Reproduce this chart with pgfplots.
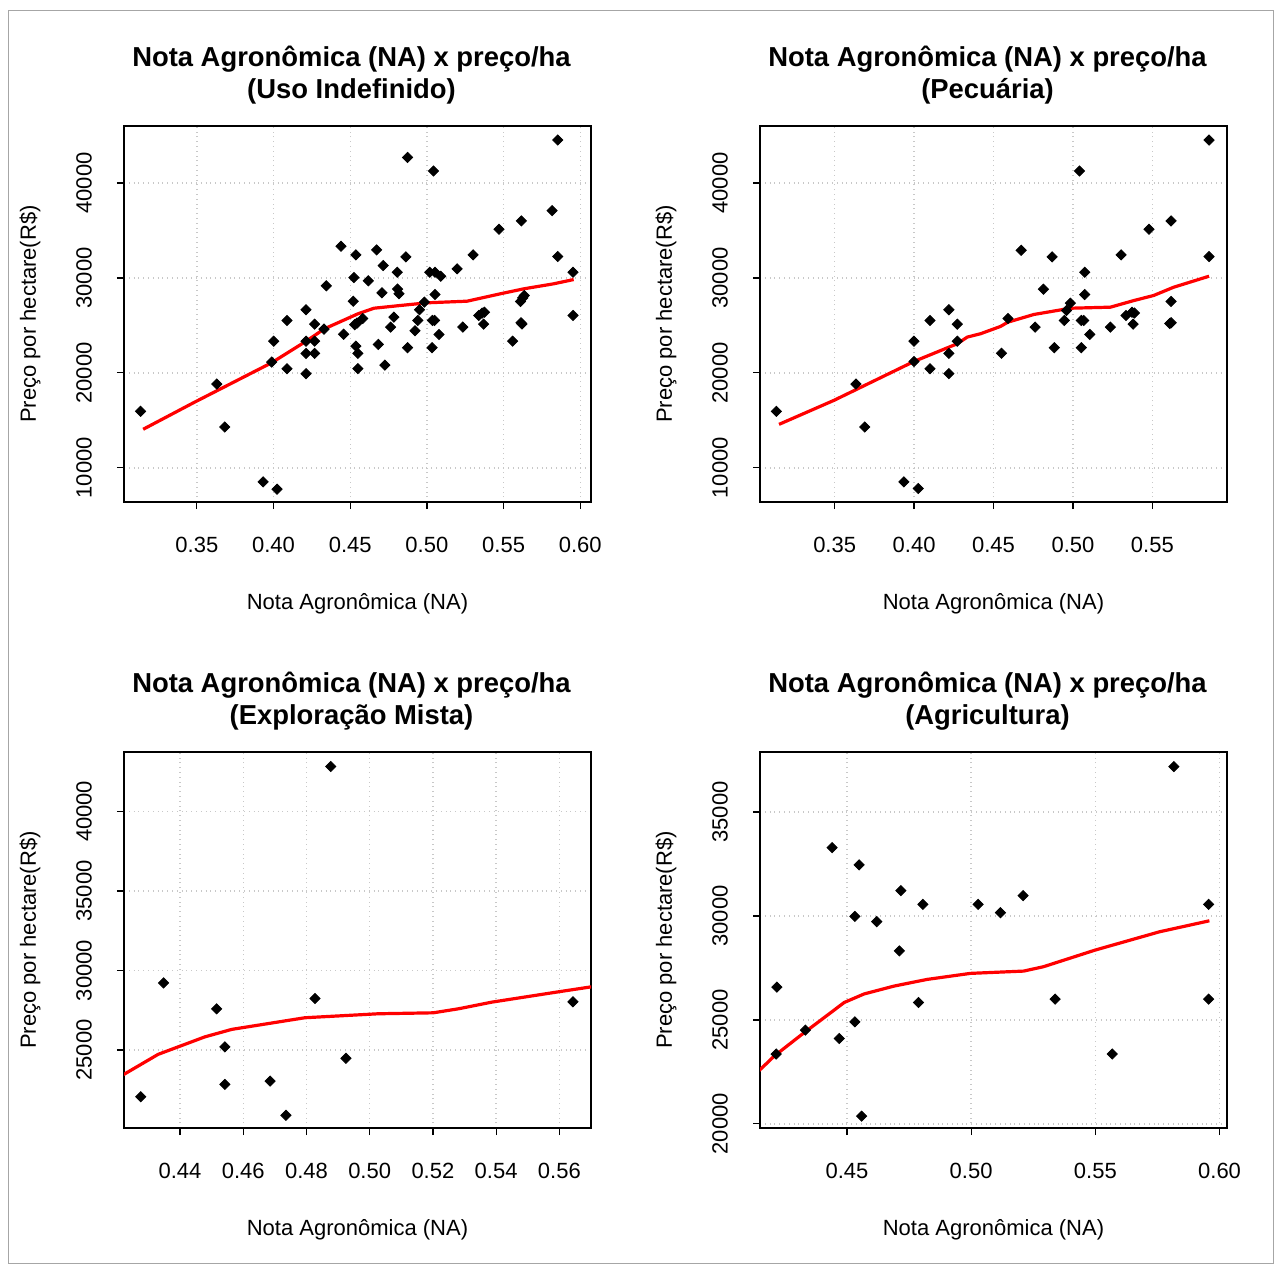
\documentclass[border=0pt]{standalone}
\usepackage{fontspec}
\setmainfont{Liberation Sans}
\usepackage{pgfplots}
\pgfplotsset{compat=1.18}
\definecolor{lgrid}{RGB}{200,200,200}

\pgfplotsset{
  rpanel/.style={
    anchor=north west,
    width=233.5pt, height=188pt, scale only axis,
    axis line style={line width=0.9pt},
    tick align=outside, xtick pos=bottom, ytick pos=left,
    major tick length=3.5pt,
    tick style={line width=0.6pt, black},
    grid=major, major grid style={dotted, lgrid, line width=0.7pt},
    font=\fontsize{11}{13}\selectfont,
    /pgf/number format/assume math mode=true,
    scaled ticks=false,
    xticklabel style={anchor=center, yshift=-18pt,
      /pgf/number format/.cd, fixed, fixed zerofill, precision=2},
    yticklabel style={rotate=90, anchor=center, yshift=16.5pt,
      /pgf/number format/.cd, fixed, set thousands separator={}},
    title style={at={(0.5,1)}, anchor=center, yshift=19.5pt, xshift=-3pt,
      align=center, font=\fontsize{13.7}{16}\selectfont\bfseries},
    xlabel={Nota Agronômica (NA)},
    ylabel={Preço por hectare(R\$)},
    xlabel style={at={(0.5,0)}, anchor=center, yshift=-51pt},
    ylabel style={at={(0,0.5)}, anchor=center, yshift=47pt},
    clip=true,
  },
  pts/.style={only marks, mark=square*, mark size=1.8pt,
    mark options={rotate=45, fill=black, draw=black}},
  fit/.style={no marks, red, line width=1.6pt},
}

\begin{document}
\begin{tikzpicture}
\useasboundingbox (0,0) rectangle (637pt,-632.5pt);
\draw[gray!70, line width=0.5pt] (4pt,-5pt) rectangle (636.6pt,-631.5pt);

% Uso Indefinido
\begin{axis}[rpanel, at={(62pt,-63pt)},
  title={Nota Agronômica (NA) x preço/ha\\(Uso Indefinido)},
  xmin=0.3025, xmax=0.607, ymin=6400, ymax=46000,
  xtick={0.35,0.40,0.45,0.50,0.55,0.60},
  ytick={10000,20000,30000,40000}]
\addplot[pts] table {
x y
0.3133 15950
0.3630 18820
0.3682 14300
0.3932 8520
0.4023 7750
0.4001 23340
0.3988 21140
0.4088 25520
0.4088 20440
0.4212 26650
0.4268 25130
0.4212 23340
0.4268 23340
0.4212 22050
0.4268 22050
0.4212 19920
0.4329 24610
0.4344 29170
0.4440 33330
0.4457 24070
0.4537 32430
0.4524 30040
0.4520 27550
0.4529 25070
0.4545 25250
0.4582 25730
0.4537 22820
0.4550 22050
0.4550 20440
0.4672 32950
0.4715 31300
0.4618 29700
0.4707 28430
0.4785 25870
0.4763 24820
0.4683 23000
0.4726 20820
0.4807 30600
0.4809 28830
0.4818 28330
0.4863 32220
0.4874 42690
0.4874 22650
0.4952 26650
0.4941 25520
0.4922 24440
0.4984 27450
0.5019 30600
0.5043 41260
0.5053 30600
0.5090 30180
0.5053 28250
0.5036 25520
0.5050 25520
0.5079 24050
0.5034 22650
0.5197 30960
0.5234 24820
0.5301 32430
0.5338 26050
0.5360 26300
0.5375 26390
0.5370 25130
0.5470 35120
0.5559 23340
0.5616 36000
0.5610 27520
0.5625 27900
0.5635 28150
0.5613 25280
0.5620 25150
0.5816 37090
0.5853 44520
0.5853 32250
0.5953 30600
0.5953 26050
};
\addplot[fit] table {
x y
0.3150 14060
0.3487 16930
0.3988 21070
0.4203 23240
0.4333 24650
0.4550 26220
0.4655 26810
0.4828 27100
0.5002 27380
0.5262 27550
0.5479 28330
0.5631 28850
0.5826 29380
0.5957 29830
};
\end{axis}

% Pecuaria
\begin{axis}[rpanel, at={(380pt,-63pt)},
  title={Nota Agronômica (NA) x preço/ha\\(Pecuária)},
  xmin=0.303, xmax=0.597, ymin=6400, ymax=46000,
  xtick={0.35,0.40,0.45,0.50,0.55},
  ytick={10000,20000,30000,40000}]
\addplot[pts] table {
x y
0.3133 15950
0.3634 18820
0.3689 14300
0.3936 8520
0.4026 7820
0.3999 23340
0.3999 21200
0.4100 25520
0.4100 20440
0.4219 26650
0.4272 25130
0.4272 23340
0.4219 22050
0.4219 19920
0.4550 22070
0.4591 25730
0.4674 32910
0.4814 28810
0.4762 24820
0.4869 32220
0.4883 22650
0.4946 25520
0.4959 26570
0.4984 27340
0.5041 41260
0.5074 30600
0.5074 28250
0.5053 25520
0.5068 25520
0.5106 24050
0.5053 22650
0.5236 24820
0.5303 32430
0.5334 26050
0.5372 26390
0.5387 26300
0.5379 25130
0.5479 35120
0.5618 36000
0.5618 27520
0.5618 25280
0.5610 25200
0.5857 44520
0.5857 32250
};
\addplot[fit] table {
x y
0.3150 14580
0.3496 17110
0.3999 21200
0.4272 23070
0.4335 23770
0.4418 24120
0.4544 24890
0.4590 25340
0.4754 26150
0.4984 26810
0.5236 26920
0.5384 27620
0.5508 28150
0.5634 29020
0.5857 30180
};
\end{axis}

% Exploracao Mista
\begin{axis}[rpanel, at={(62pt,-376pt)},
  title={Nota Agronômica (NA) x preço/ha\\(Exploração Mista)},
  xmin=0.4223, xmax=0.5700, ymin=20100, ymax=43730,
  xtick={0.44,0.46,0.48,0.50,0.52,0.54,0.56},
  ytick={25000,30000,35000,40000}]
\addplot[pts] table {
x y
0.4276 22070
0.4348 29220
0.4516 27590
0.4542 25200
0.4542 22840
0.4685 23050
0.4735 20900
0.4827 28240
0.4877 42820
0.4925 24480
0.5643 28030
};
\addplot[fit] table {
x y
0.4200 23250
0.4226 23510
0.4331 24730
0.4479 25830
0.4564 26300
0.4795 27030
0.5027 27280
0.5201 27340
0.5280 27590
0.5386 28010
0.5597 28660
0.5720 29030
};
\end{axis}

% Agricultura
\begin{axis}[rpanel, at={(380pt,-376pt)},
  title={Nota Agronômica (NA) x preço/ha\\(Agricultura)},
  xmin=0.415, xmax=0.603, ymin=19800, ymax=37890,
  xtick={0.45,0.50,0.55,0.60},
  ytick={20000,25000,30000,35000}]
\addplot[pts] table {
x y
0.4218 26580
0.4215 23360
0.4333 24510
0.4440 33290
0.4469 24110
0.4549 32460
0.4532 29980
0.4532 24910
0.4559 20370
0.4620 29730
0.4717 31220
0.4711 28320
0.4806 30560
0.4788 25840
0.5028 30560
0.5118 30160
0.5209 30980
0.5338 26000
0.5568 23360
0.5816 37190
0.5956 30560
0.5956 26000
};
\addplot[fit] table {
x y
0.4140 22500
0.4155 22660
0.4208 23270
0.4315 24270
0.4489 25840
0.4569 26250
0.4690 26630
0.4823 26950
0.4997 27240
0.5211 27350
0.5291 27560
0.5499 28360
0.5758 29240
0.5959 29770
};
\end{axis}
\end{tikzpicture}
\end{document}
